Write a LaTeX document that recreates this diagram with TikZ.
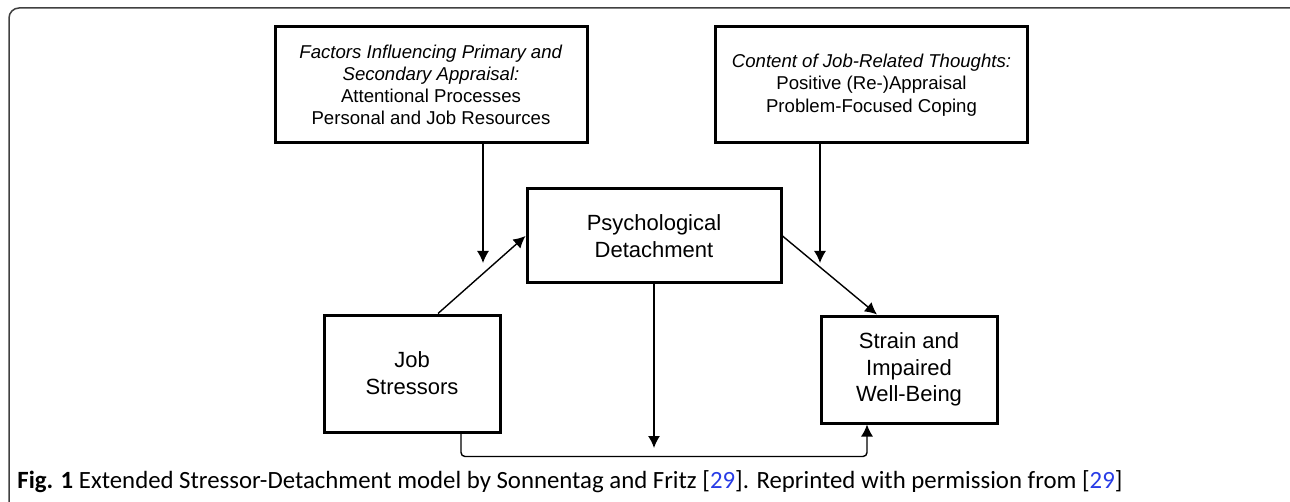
\documentclass[tikz,border=0pt]{standalone}
\usepackage{fontspec}
\setmainfont{Liberation Sans}
\newfontfamily\capfont{Carlito}
\usepackage{tikz}
\usetikzlibrary{arrows.meta}
\usetikzlibrary{calc}
\usetikzlibrary{positioning}
\definecolor{reflink}{RGB}{40,60,230}
\tikzset{>={Latex[length=6pt,width=6pt]}}
\tikzset{
  sd_box/.style = {draw=black, line width=1.5pt, align=center, inner sep=0pt},
  sd_side/.style = {sd_box, font=\fontsize{9.3}{11.1}\selectfont, minimum width=156pt, minimum height=58pt},
  sd_main/.style = {sd_box, font=\fontsize{11}{13.4}\selectfont},
  sd_arrow/.style = {->, line width=0.7pt},
  sd_frame/.style = {draw=black!75, line width=0.75pt, rounded corners=5pt}
}

\begin{document}
\begin{tikzpicture}[x=0.5pt,y=-0.5pt]
    \useasboundingbox (0,0) rectangle (1290,502);
    \begin{scope}
        \clip (0,0) rectangle (1290,502);
        \draw[sd_frame] (9,8) rectangle (1310,512);
    \end{scope}

    % moderators
    \node [sd_side] (factors) at (431,85) {\textit{Factors Influencing Primary and}\\ \textit{Secondary Appraisal:}\\ Attentional Processes\\ Personal and Job Resources};
    \node [sd_side] (content) at (871.5,85) {\textit{Content of Job-Related Thoughts:}\\ Positive (Re-)Appraisal\\ Problem-Focused Coping};

    % main path
    \node [sd_main, minimum width=127pt, minimum height=47pt] (detach) at (654,236) {Psychological\\ Detachment};
    \node [sd_main, minimum width=88pt, minimum height=58.5pt] (stress) at (412,373.5) {Job\\ Stressors};
    \node [sd_main, minimum width=88pt, minimum height=53.5pt] (strain) at (909,369.5) {Strain and\\ Impaired\\ Well-Being};

    \coordinate (fa_end) at (483,263);
    \coordinate (ct_end) at (820,263);
    \coordinate (dt_end) at (654,448);

    \draw [sd_arrow] (factors.south -| fa_end) -- (fa_end);
    \draw [sd_arrow] (content.south -| ct_end) -- (ct_end);
    \draw [sd_arrow] ($(stress.north)+(26,0)$) -- (detach.west);
    \draw [sd_arrow] (detach.east) -- ($(strain.north)+(-32,0)$);
    \draw [sd_arrow] (detach.south) -- (dt_end);
    \draw [sd_arrow, rounded corners=2pt] ($(stress.south)+(49,0)$) -- ++(0,23) -| ($(strain.south)+(-42,0)$);

    \node [anchor=base west, inner sep=0pt, font=\capfont\fontsize{12.4}{14}\selectfont] (caption) at (17,488) {\textbf{Fig. 1} Extended Stressor-Detachment model by Sonnentag and Fritz [\textcolor{reflink}{29}]. Reprinted with permission from [\textcolor{reflink}{29}]};
\end{tikzpicture}
\end{document}
